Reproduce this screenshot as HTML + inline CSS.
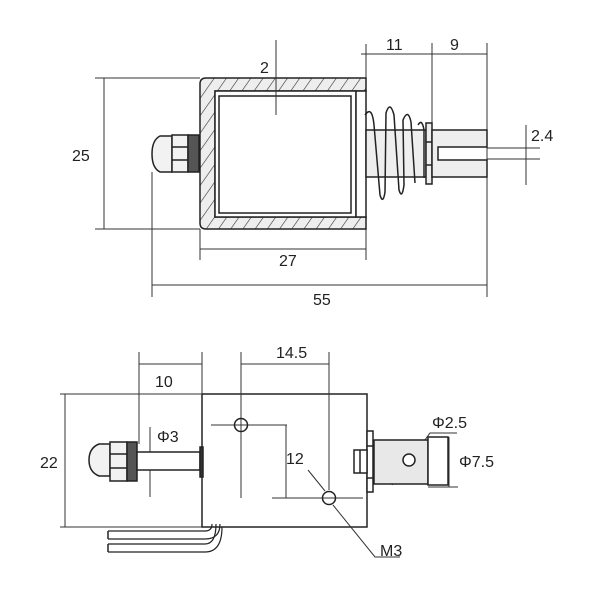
<!DOCTYPE html>
<html><head><style>body{margin:0;background:#fff}svg{display:block}text{font-family:"Liberation Sans",sans-serif;font-size:16px;fill:#222}</style></head><body>
<svg width="600" height="600" viewBox="0 0 600 600" xmlns="http://www.w3.org/2000/svg">
<defs><pattern id="h" width="10" height="10" patternUnits="userSpaceOnUse" patternTransform="rotate(35)"><rect width="10" height="10" fill="#eee"/><line x1="0" y1="0" x2="0" y2="10" stroke="#333" stroke-width="1.2"/></pattern></defs>
<g stroke="#333" stroke-width="1" fill="none">
<line x1="95" y1="78" x2="200" y2="78"/><line x1="95" y1="229" x2="200" y2="229"/>
<line x1="104" y1="78" x2="104" y2="229"/>
<line x1="200" y1="229" x2="200" y2="260"/><line x1="366" y1="44" x2="366" y2="260"/>
<line x1="200" y1="249" x2="366" y2="249"/>
<line x1="152" y1="172" x2="152" y2="297"/><line x1="487" y1="43" x2="487" y2="297"/>
<line x1="152" y1="285" x2="487" y2="285"/>
<line x1="361" y1="54" x2="487" y2="54"/><line x1="432" y1="43" x2="432" y2="123"/>
<line x1="526" y1="125" x2="526" y2="185"/><line x1="487" y1="148" x2="540" y2="148"/><line x1="487" y1="159" x2="540" y2="159"/>
</g>
<g stroke="#222" stroke-width="1.5">
<path d="M206 78 H366 V91 H215 V217 H366 V229 H206 Q200 229 200 223 V84 Q200 78 206 78Z" fill="url(#h)"/>
<rect x="215" y="91" width="141" height="126" fill="#fff"/>
<rect x="219" y="96" width="132" height="117" fill="#fff"/>
<rect x="356" y="91" width="10" height="126" fill="#fff"/>
<path d="M172 136 H160 Q152 140 152 154 Q152 168 160 172 H172Z" fill="#f2f2f2"/>
<rect x="172" y="135" width="16" height="37" fill="#f2f2f2"/>
<line x1="172" y1="147" x2="188" y2="147"/><line x1="172" y1="160" x2="188" y2="160"/>
<rect x="188" y="135" width="11" height="37" fill="#555"/>
<rect x="366" y="130" width="60" height="47" fill="#eee"/>
<rect x="426" y="123" width="6" height="61" fill="#eee"/>
<line x1="426" y1="142" x2="432" y2="142"/><line x1="426" y1="165" x2="432" y2="165"/>
<path d="M432 130 H487 V147 H438 V160 H487 V177 H432Z" fill="#eee"/>
</g>
<line x1="276" y1="40" x2="276" y2="115" stroke="#333" stroke-width="1"/>
<g stroke="#222" stroke-width="1.5" fill="none">
<path d="M365 115 Q372 105 374 125 L380 195 Q383 205 385 192 L386 113 Q390 100 394 115 L399 190 Q402 200 404 185 L403 120 Q408 108 411 122 L415 183"/>
<path d="M418 125 Q422 118 424 130 L424 178"/>
</g>
<text x="260" y="73">2</text><text x="72" y="161">25</text><text x="279" y="266">27</text><text x="313" y="305">55</text>
<text x="386" y="50">11</text><text x="450" y="50">9</text><text x="531" y="141">2.4</text>
<!-- bottom view -->
<rect x="202" y="394" width="165" height="133" fill="#fff" stroke="#222" stroke-width="1.5"/>
<g stroke="#333" stroke-width="1" fill="none">
<line x1="60" y1="394" x2="202" y2="394"/><line x1="60" y1="527" x2="202" y2="527"/>
<line x1="65" y1="394" x2="65" y2="527"/>
<line x1="139" y1="352" x2="139" y2="444"/><line x1="202" y1="352" x2="202" y2="394"/>
<line x1="139" y1="364" x2="202" y2="364"/>
<line x1="150" y1="427" x2="150" y2="497"/>
<line x1="241" y1="352" x2="241" y2="498"/><line x1="329" y1="352" x2="329" y2="490"/>
<line x1="241" y1="364" x2="329" y2="364"/>
<line x1="211" y1="425" x2="287" y2="425"/><line x1="286" y1="425" x2="286" y2="498"/><line x1="272" y1="498" x2="363" y2="498"/>
<line x1="308" y1="470" x2="325" y2="491"/>
<polyline points="333,505 375,557 400,557"/>
<polyline points="392,485 430,433 457,433"/>
<line x1="449" y1="437" x2="449" y2="487"/><line x1="428" y1="487" x2="458" y2="487"/>
</g>
<g stroke="#222" stroke-width="1.5">
<circle cx="241" cy="425" r="6.5" fill="none"/><circle cx="329" cy="498" r="6.5" fill="none"/>
<path d="M110 444 H99 Q89 448 89 460 Q89 472 99 476 H110Z" fill="#f2f2f2"/>
<rect x="110" y="442" width="17" height="39" fill="#f2f2f2"/>
<line x1="110" y1="454" x2="127" y2="454"/><line x1="110" y1="468" x2="127" y2="468"/>
<rect x="127" y="442" width="10" height="39" fill="#555"/>
<rect x="137" y="452" width="63" height="18" fill="#fff"/>
<rect x="200" y="447" width="3" height="30" fill="#333"/>
<rect x="367" y="431" width="6" height="61" fill="#fff"/>
<line x1="367" y1="446" x2="373" y2="446"/><line x1="367" y1="478" x2="373" y2="478"/>
<rect x="354" y="450" width="13" height="23" fill="#fff"/><line x1="360" y1="450" x2="360" y2="473"/>
<rect x="374" y="440" width="54" height="44" fill="#e8e8e8"/>
<rect x="428" y="437" width="20" height="48" fill="#fff"/>
<circle cx="409" cy="460" r="6" fill="#fff"/>
<path d="M108 531 H205 Q212 531 212 524" fill="none" stroke-width="1.2"/>
<path d="M108 539 H205 Q220 539 220 524" fill="none" stroke-width="1.2"/>
<path d="M108 544 H205 Q216 544 216 524" fill="none" stroke-width="1.2"/>
<path d="M108 552 H205 Q222 552 222 527" fill="none" stroke-width="1.2"/>
<line x1="108" y1="531" x2="108" y2="539"/><line x1="108" y1="544" x2="108" y2="552"/>
</g>
<text x="40" y="468">22</text><text x="155" y="387">10</text><text x="276" y="358">14.5</text>
<text x="157" y="442">Φ3</text><text x="286" y="464">12</text><text x="380" y="556">M3</text>
<text x="432" y="428">Φ2.5</text><text x="459" y="467">Φ7.5</text>
</svg>
</body></html>
